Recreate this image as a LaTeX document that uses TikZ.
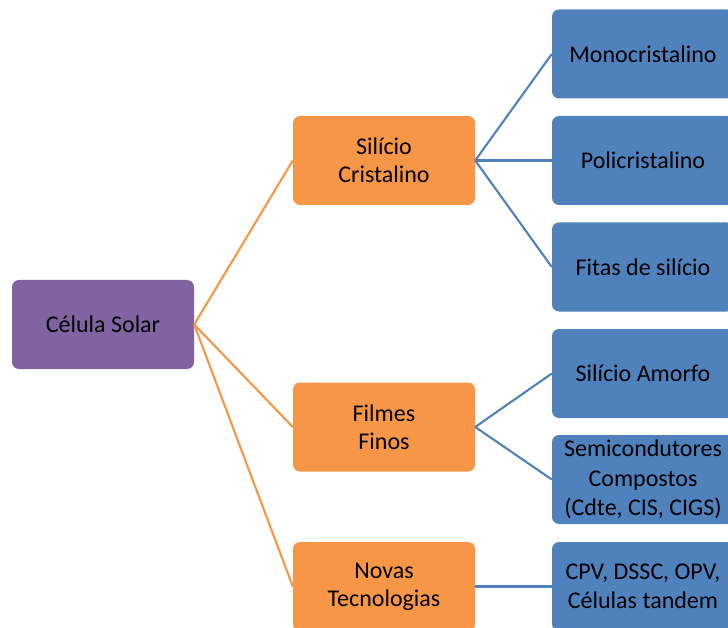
\documentclass[tikz,border=0pt]{standalone}
\usepackage{fontspec}
\setmainfont{Carlito}
\definecolor{cpurple}{HTML}{8064A2}
\definecolor{corange}{HTML}{F79646}
\definecolor{cblue}{HTML}{4F81BD}
\begin{document}
\begin{tikzpicture}[x=1pt,y=-1pt,
  box/.style={rounded corners=7pt, minimum width=182pt, minimum height=89pt, inner sep=0pt, align=center, text=black, font=\fontsize{24}{28}\selectfont},
  root/.style={box, fill=cpurple},
  mid/.style={box, fill=corange},
  leaf/.style={box, fill=cblue, font=\fontsize{24}{29.5}\selectfont},
  olink/.style={draw=corange, line width=2.1pt},
  blink/.style={draw=cblue, line width=2.1pt}]
\useasboundingbox (0,0) rectangle (728,628);
\clip (0,0) rectangle (728,628);
\node[root] (cel) at (103,324.5) {Célula Solar};
\node[mid] (sc) at (384,160.5) {Silício\\Cristalino};
\node[mid] (ff) at (384,427) {Filmes\\Finos};
\node[mid] (nt) at (384,586.5) {Novas\\Tecnologias};
\node[leaf] (mono) at (643,54) {Monocristalino};
\node[leaf] (poli) at (643,160.5) {Policristalino};
\node[leaf] (fitas) at (643,267) {Fitas de silício};
\node[leaf] (amorfo) at (643,373.5) {Silício Amorfo};
\node[leaf] (semi) at (643,479.5) {Semicondutores\\Compostos\\(Cdte, CIS, CIGS)};
\node[leaf] (cpv) at (643,586.5) {CPV, DSSC, OPV,\\Células tandem};
\draw[olink] (cel.east) -- (sc.west);
\draw[olink] (cel.east) -- (ff.west);
\draw[olink] (cel.east) -- (nt.west);
\draw[blink] (sc.east) -- (mono.west);
\draw[blink] (sc.east) -- (poli.west);
\draw[blink] (sc.east) -- (fitas.west);
\draw[blink] (ff.east) -- (amorfo.west);
\draw[blink] (ff.east) -- (semi.west);
\draw[blink] (nt.east) -- (cpv.west);
\end{tikzpicture}
\end{document}
